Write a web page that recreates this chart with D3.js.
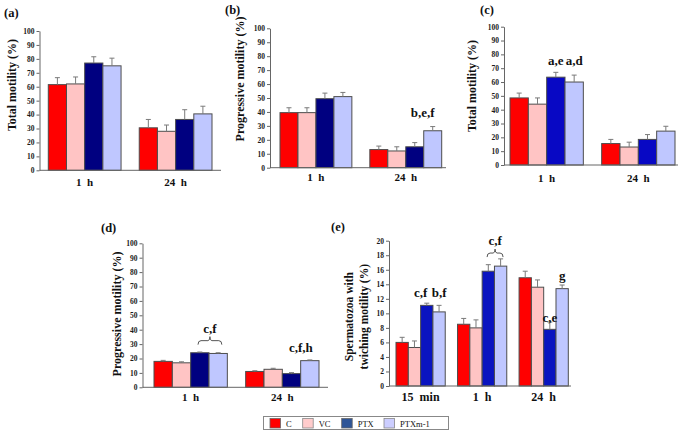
<!DOCTYPE html>
<html><head><meta charset="utf-8">
<script src="https://cdn.jsdelivr.net/npm/d3@7/dist/d3.min.js"></script>
<style>
html,body{margin:0;padding:0;background:#fff;}
svg{display:block;}
text{font-family:"Liberation Serif","Times New Roman",serif;}
</style></head>
<body>
<svg id="chart" width="685" height="432"></svg>
<script>
// ---------- DATA ----------
const series = ["C", "VC", "PTX", "PTXm-1"];
const timesTwo = ["1 h", "24 h"];
const timesThree = ["15 min", "1 h", "24 h"];
const ticks100 = [0, 10, 20, 30, 40, 50, 60, 70, 80, 90, 100];
const ticks20 = [0, 2, 4, 6, 8, 10, 12, 14, 16, 18, 20];

const aMean = [[61.5, 62, 77, 75], [30.5, 28, 36.5, 40.5]];
const aErr  = [[5, 5, 4.5, 5.5], [6, 4.5, 7, 5.5]];
const bMean = [[39.5, 39.5, 49.5, 51], [13, 12, 15, 26.5]];
const bErr  = [[3.5, 3.5, 4, 3], [2.5, 3, 3, 3]];
const cMean = [[48.5, 44, 63.5, 60], [15.5, 13, 18.5, 24.5]];
const cErr  = [[3.5, 4.5, 3.5, 5], [3, 3.5, 3.5, 3.5]];
const dMean = [[18, 17, 24, 23.5], [11, 12.5, 9.5, 18.5]];
const dErr  = [[0.7, 0.7, 0.5, 0.5], [0.5, 0.7, 0.7, 0.5]];
const eMean = [[6, 5.3, 11.1, 10.2], [8.5, 8, 15.8, 16.5], [14.9, 13.6, 7.8, 13.4]];
const eErr  = [[0.7, 0.9, 0.3, 0.9], [0.8, 1.1, 0.9, 1.0], [0.9, 1.0, 1.0, 0.5]];

// annotations: group index, series indices, label, level (value units)
const bNotes = [{g: 1, s: [3], label: "b,e,f", level: 36.4}];
const cNotes = [{g: 0, s: [2], label: "a,e", level: 72.3}, {g: 0, s: [3], label: "a,d", level: 72.3}];
const dNotes = [{g: 0, s: [2, 3], label: "c,f", level: 32.4}, {g: 1, s: [3], label: "c,f,h", level: 24.5}];
const eNotes = [{g: 0, s: [2], label: "c,f", level: 12.25}, {g: 0, s: [3], label: "b,f", level: 12.25},
                {g: 1, s: [2, 3], label: "c,f", level: 18.3}, {g: 2, s: [2], label: "c,e", level: 8.8},
                {g: 2, s: [3], label: "g", level: 14.6}];

// ---------- STYLE / LAYOUT ----------
const svg = d3.select("#chart");
const fillBase = {"C": "#ff0000", "VC": "#ffc4c4", "PTXm-1": "#bfc7ff"};
const legendFill = {"C": "#ff0000", "VC": "#ffcccc", "PTX": "#2f5597", "PTXm-1": "#ccceff"};

const panels = [
  {id: "(a)", tx: 4, ty: 17, cats: timesTwo, mean: aMean, err: aErr, max: 100, ticks: ticks100,
   y0: 170.3, y1: 31, ax: 39.5, axEnd: 221, gx0: 48.3, gx1: 212, ptx: "#000080",
   ylab: ["Total motility (%)"], ylx: 12, yly: 85, catDy: 15.5, notes: []},
  {id: "(b)", tx: 225, ty: 14, cats: timesTwo, mean: bMean, err: bErr, max: 100, ticks: ticks100,
   y0: 167.7, y1: 28.3, ax: 270, axEnd: 446, gx0: 280, gx1: 441.7, ptx: "#000080",
   ylab: ["Progressive motility (%)"], ylx: 240, yly: 79, catDy: 13.5, notes: bNotes,
   dx: {"b,e,f": -10}},
  {id: "(c)", tx: 480, ty: 14, cats: timesTwo, mean: cMean, err: cErr, max: 100, ticks: ticks100,
   y0: 165, y1: 26.7, ax: 504, axEnd: 678, gx0: 510, gx1: 675, ptx: "#0808c4",
   ylab: ["Total motility (%)"], ylx: 472, yly: 86, catDy: 17, notes: cNotes},
  {id: "(d)", tx: 101, ty: 232, cats: timesTwo, mean: dMean, err: dErr, max: 100, ticks: ticks100,
   y0: 387.3, y1: 243.3, ax: 142.5, axEnd: 328, gx0: 154, gx1: 319, ptx: "#000080",
   ylab: ["Progressive motility (%)"], ylx: 117, yly: 314, catDy: 14, notes: dNotes,
   dx: {"c,f,h": -9}},
  {id: "(e)", tx: 331, ty: 231, cats: timesThree, mean: eMean, err: eErr, max: 20, ticks: ticks20,
   y0: 386, y1: 240.7, ax: 389, axEnd: 571, gx0: 396, gx1: 568.3, ptx: "#0a14c0",
   ylab: ["Spermatozoa with", "twiching motility (%)"], ylx: 348.5, yly: 316.7, ylGap: 15,
   catDy: 14.5, catSize: 12, notes: eNotes, dx: {"c,f": -6}}
];

function drawPanel(p) {
  const g = svg.append("g");
  const y = d3.scaleLinear().domain([0, p.max]).range([p.y0, p.y1]);
  const x0 = d3.scaleBand().domain(p.cats).range([p.gx0, p.gx1]).paddingInner(0.2);
  const x1 = d3.scaleBand().domain(series).range([0, x0.bandwidth()]);
  const color = s => s === "PTX" ? p.ptx : fillBase[s];

  // title
  g.append("text").attr("x", p.tx).attr("y", p.ty)
    .attr("font-size", 12.5).attr("font-weight", "bold").attr("fill", "#111").text(p.id);

  // y axis
  const yAxis = g.append("g").attr("transform", `translate(${p.ax},0)`)
    .call(d3.axisLeft(y).tickValues(p.ticks).tickSize(3).tickPadding(2).tickSizeOuter(0));
  yAxis.select(".domain").attr("stroke", "#666");
  yAxis.selectAll(".tick line").attr("stroke", "#666");
  yAxis.selectAll(".tick text").attr("font-size", 7.5).attr("font-weight", "bold")
    .attr("fill", "#1a1a1a").attr("font-family", "Liberation Serif, serif");

  // y label
  const lab = g.append("text")
    .attr("transform", `translate(${p.ylx},${p.yly}) rotate(-90)`)
    .attr("text-anchor", "middle").attr("font-size", 12).attr("font-weight", "bold").attr("fill", "#111");
  if (p.ylab.length === 1) {
    lab.attr("dy", "0.35em").text(p.ylab[0]);
  } else {
    lab.attr("font-size", 11.5);
    p.ylab.forEach((t, i) => lab.append("tspan").attr("x", 0).attr("y", i * p.ylGap).attr("dy", "0.35em").text(t));
  }

  // bars
  const groups = g.selectAll(".grp").data(p.cats).join("g")
    .attr("transform", c => `translate(${x0(c)},0)`);
  groups.each(function (c, gi) {
    const gg = d3.select(this);
    series.forEach((s, si) => {
      const v = p.mean[gi][si], e = p.err[gi][si];
      const bx = x1(s), bw = x1.bandwidth();
      gg.append("rect").attr("x", bx).attr("y", y(v)).attr("width", bw).attr("height", y(0) - y(v))
        .attr("fill", color(s)).attr("stroke", "#4d4d4d").attr("stroke-width", 1);
      const cx = bx + bw / 2;
      gg.append("line").attr("x1", cx).attr("x2", cx).attr("y1", y(v)).attr("y2", y(v + e))
        .attr("stroke", "#7a7a7a").attr("stroke-width", 1);
      gg.append("line").attr("x1", cx - 2.5).attr("x2", cx + 2.5).attr("y1", y(v + e)).attr("y2", y(v + e))
        .attr("stroke", "#7a7a7a").attr("stroke-width", 1);
    });
  });

  // x axis line
  g.append("line").attr("x1", p.ax).attr("x2", p.axEnd).attr("y1", y(0)).attr("y2", y(0))
    .attr("stroke", "#666").attr("stroke-width", 1);

  // category labels via axis
  const xAxis = g.append("g").attr("transform", `translate(0,${y(0)})`)
    .call(d3.axisBottom(x0).tickSize(0));
  xAxis.select(".domain").remove();
  xAxis.selectAll(".tick text").attr("y", p.catDy).attr("dy", null)
    .attr("font-size", p.catSize || 11).attr("font-weight", "bold").attr("fill", "#111")
    .attr("font-family", "Liberation Serif, serif")
    .text(t => t.replace(" ", "\u00a0\u00a0"));

  // annotations
  p.notes.forEach(n => {
    const gx = x0(p.cats[n.g]);
    const dx = (p.dx && p.dx[n.label] && n.s.length === 1) ? p.dx[n.label] : 0;
    if (n.s.length === 1) {
      const cx = gx + x1(series[n.s[0]]) + x1.bandwidth() / 2 + dx;
      g.append("text").attr("x", cx).attr("y", y(n.level)).attr("text-anchor", "middle")
        .attr("font-size", 13).attr("font-weight", "bold").attr("fill", "#111").text(n.label);
    } else {
      const xa = gx + x1(series[n.s[0]]) + x1.bandwidth() * 0.4;
      const xb = gx + x1(series[n.s[n.s.length - 1]]) + x1.bandwidth() * 0.7;
      const yb = y(n.level), mid = (xa + xb) / 2;
      const path = `M${xa},${yb + 4} Q${xa},${yb} ${xa + 3},${yb} L${mid - 2},${yb} Q${mid},${yb} ${mid},${yb - 4} Q${mid},${yb} ${mid + 2},${yb} L${xb - 3},${yb} Q${xb},${yb} ${xb},${yb + 4}`;
      g.append("path").attr("d", path).attr("fill", "none").attr("stroke", "#555").attr("stroke-width", 1);
      g.append("text").attr("x", mid).attr("y", yb - 8).attr("text-anchor", "middle")
        .attr("font-size", 13).attr("font-weight", "bold").attr("fill", "#111").text(n.label);
    }
  });
}

panels.forEach(drawPanel);

// legend
const lg = svg.append("g");
lg.append("rect").attr("x", 263.5).attr("y", 416.5).attr("width", 185).attr("height", 13)
  .attr("fill", "#fff").attr("stroke", "#888").attr("stroke-width", 1);
const legSw = {"C": 270, "VC": 302.7, "PTX": 341.7, "PTXm-1": 384};
series.forEach(s => {
  const sx = legSw[s];
  lg.append("rect").attr("x", sx).attr("y", 418.5).attr("width", 10.5).attr("height", 9.5)
    .attr("fill", legendFill[s]).attr("stroke", s === "C" || s === "PTX" ? "#666" : "#888").attr("stroke-width", 0.8);
  lg.append("text").attr("x", sx + 16).attr("y", 426.5).attr("font-size", 8.5).attr("fill", "#111")
    .text(s);
});
</script>
</body></html>
